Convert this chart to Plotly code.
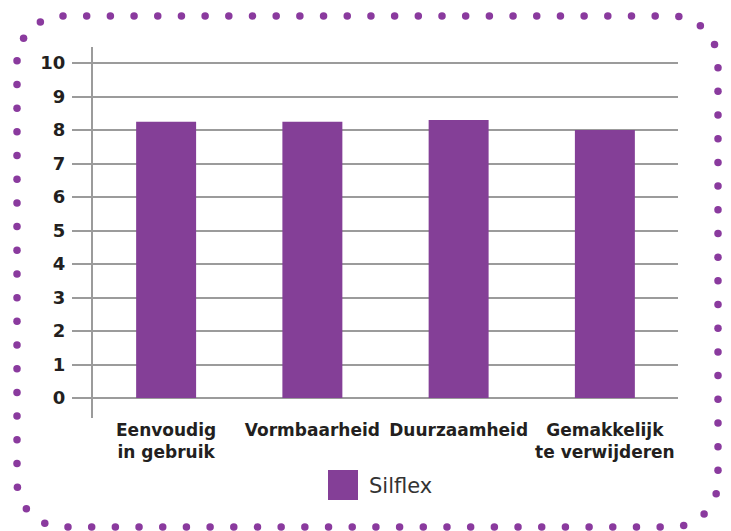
import numpy as np
import plotly.graph_objects as go

categories = ["Eenvoudig<br>in gebruik", "Vormbaarheid", "Duurzaamheid", "Gemakkelijk<br>te verwijderen"]
values = [8.25, 8.25, 8.3, 8.0]
series_name = "Silflex"
y_ticks = list(range(0, 11))

OFF = 8  # page body margin
W, H = 731 - OFF, 531 - OFF
PURPLE = "#843F97"
GRID = "#9B9B9B"
TEXT = "#231F20"
FONT = "DejaVu Sans"

def fx(px):  # reference pixel x -> paper
    return (px - OFF) / W
def fy(py):  # reference pixel y (from top) -> paper
    return (H - (py - OFF)) / H

fig = go.Figure()
fig.add_trace(go.Bar(x=categories, y=values, name=series_name,
                     marker=dict(color=PURPLE, line=dict(width=0)),
                     showlegend=False))

# dotted rounded border (decoration)
L, R, T, B, rad = 17, 718, 16, 527, 46
path_x, path_y = [], []
def add_line(a, b):
    path_x.extend(np.linspace(a[0], b[0], 200)); path_y.extend(np.linspace(a[1], b[1], 200))
def add_arc(cx, cy, a0, a1):
    t = np.linspace(np.radians(a0), np.radians(a1), 200)
    path_x.extend(cx + rad * np.cos(t)); path_y.extend(cy + rad * np.sin(t))
add_line((L + rad, T), (R - rad, T))
add_arc(R - rad, T + rad, -90, 0)
add_line((R, T + rad), (R, B - rad))
add_arc(R - rad, B - rad, 0, 90)
add_line((R - rad, B), (L + rad, B))
add_arc(L + rad, B - rad, 90, 180)
add_line((L, B - rad), (L, T + rad))
add_arc(L + rad, T + rad, 180, 270)
px_ = np.array(path_x); py_ = np.array(path_y)
d = np.concatenate([[0], np.cumsum(np.hypot(np.diff(px_), np.diff(py_)))])
total = d[-1]
n = int(round(total / 23.6))
s = np.arange(n) * total / n
dx = np.interp(s, d, px_) - OFF
dy = np.interp(s, d, py_) - OFF
fig.add_trace(go.Scatter(x=dx, y=dy, mode="markers", xaxis="x2", yaxis="y2",
                         marker=dict(color="#8A3A9E", size=7.5, line=dict(width=0)),
                         showlegend=False, hoverinfo="skip", cliponaxis=False))

ppu = (398 - 63) / 10.0
ytop = 10 + (63 - 47) / ppu
ybot = -(418 - 398) / ppu

fig.update_layout(
    width=W, height=H,
    margin=dict(l=0, r=0, t=0, b=0),
    paper_bgcolor="white", plot_bgcolor="rgba(0,0,0,0)",
    bargap=0.59,
    font=dict(family=FONT, color=TEXT),
    xaxis=dict(domain=[fx(93), fx(678)], showgrid=False, showline=False,
               ticks="", tickfont=dict(family=FONT, size=17, color=TEXT, weight="bold"),
               fixedrange=True),
    yaxis=dict(domain=[fy(418), fy(47)], range=[ybot, ytop],
               tickvals=y_ticks, showgrid=True, gridcolor=GRID, gridwidth=2,
               zeroline=True, zerolinecolor=GRID, zerolinewidth=2,
               showline=True, linecolor=GRID, linewidth=2,
               ticks="outside", ticklen=19, tickwidth=2, tickcolor=GRID,
               tickfont=dict(family=FONT, size=18, color=TEXT, weight="bold"),
               ticklabelstandoff=3, fixedrange=True),
    xaxis2=dict(domain=[0, 1], range=[0, W], visible=False, anchor="y2", fixedrange=True),
    yaxis2=dict(domain=[0, 1], range=[H, 0], visible=False, anchor="x2", fixedrange=True),
    shapes=[dict(type="rect", xref="paper", yref="paper",
                 x0=fx(328), x1=fx(358), y0=fy(500), y1=fy(470),
                 fillcolor=PURPLE, line=dict(width=0))],
    annotations=[dict(text=series_name, xref="paper", yref="paper",
                      x=fx(367), y=fy(486), xanchor="left", yanchor="middle",
                      showarrow=False, font=dict(family=FONT, size=21, color="#333333"))],
)

fig.write_html("out.html")
